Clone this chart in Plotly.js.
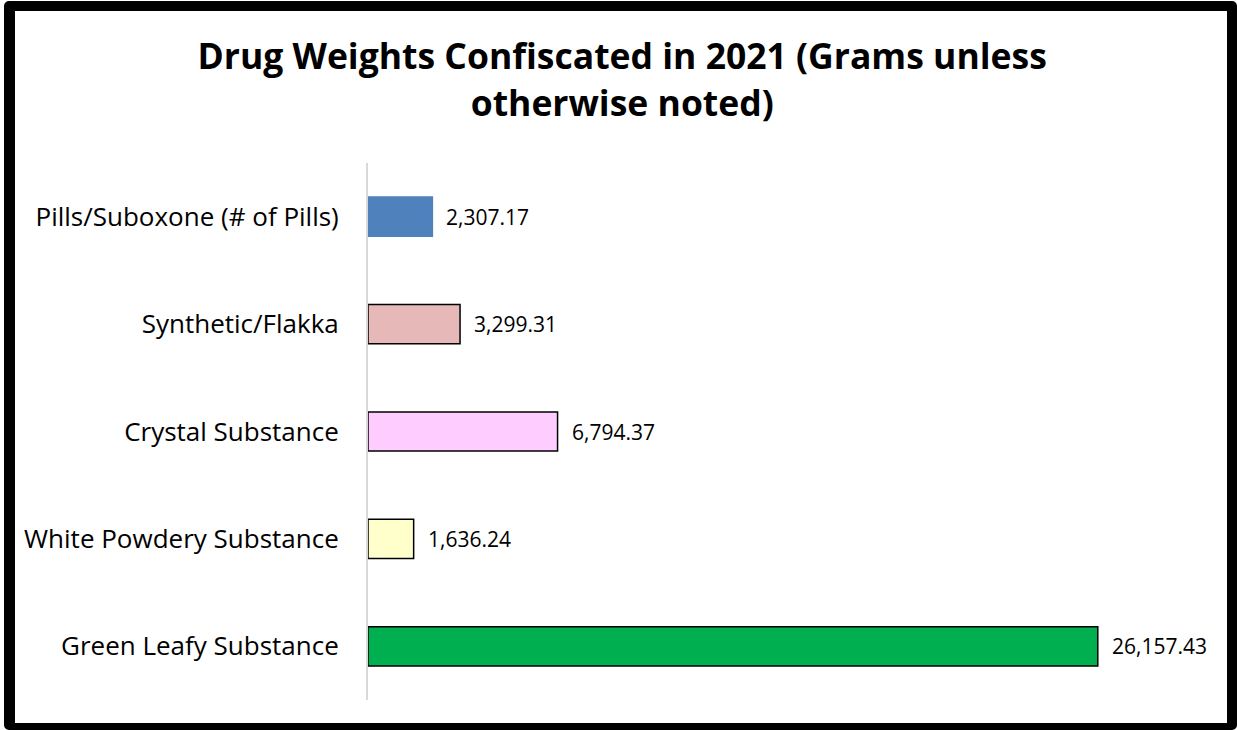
<!DOCTYPE html>
<html>
<head>
<meta charset="utf-8">
<script src="https://cdn.plot.ly/plotly-3.0.1.min.js"></script>
<style>
html,body{margin:0;padding:0;background:#fff;}
#wrap{position:relative;width:1237px;height:730px;overflow:hidden;}
#chart{position:absolute;left:0;top:0;width:1237px;height:730px;}
#frame{position:absolute;left:4px;top:1px;width:1233px;height:729px;box-sizing:border-box;border-style:solid;border-color:#000;border-width:10px 10px 7px 11px;border-radius:5px;pointer-events:none;}
</style>
</head>
<body>
<div id="wrap"><div id="chart"></div><div id="frame"></div></div>
<script>
const categories = ["Pills/Suboxone (# of Pills)", "Synthetic/Flakka", "Crystal Substance", "White Powdery Substance", "Green Leafy Substance"];
const values = [2307.17, 3299.31, 6794.37, 1636.24, 26157.43];
const valueLabels = ["2,307.17", "3,299.31", "6,794.37", "1,636.24", "26,157.43"];
const fillColors = ["#4F81BD", "#E6B9B8", "#FFCCFF", "#FFFFCC", "#00B050"];
const lineColors = ["#4F81BD", "#000000", "#000000", "#000000", "#000000"];

const FONT = "Open Sans, sans-serif";

const trace = {
  type: "bar",
  orientation: "h",
  y: categories,
  x: values,
  width: 0.365,
  marker: {color: fillColors, line: {color: lineColors, width: 1.5}},
  hoverinfo: "skip"
};

const annotations = values.map((v, i) => ({
  x: v, y: categories[i], xref: "x", yref: "y",
  text: valueLabels[i], showarrow: false, xanchor: "left", yanchor: "middle",
  xshift: 12, font: {family: FONT, size: 21, color: "#000"}
}));

const layout = {
  width: 1237, height: 730,
  paper_bgcolor: "#fff", plot_bgcolor: "#fff",
  margin: {l: 368, r: 32, t: 163, b: 30},
  showlegend: false,
  title: {
    text: "<b>Drug Weights Confiscated in 2021 (Grams unless<br>otherwise noted)</b>",
    font: {family: FONT, size: 35.5, color: "#000"},
    x: 0.503, xref: "container", xanchor: "center", y: 0.905, yref: "container", yanchor: "top"
  },
  xaxis: {range: [0, 30000], visible: false, showgrid: false, zeroline: false, fixedrange: true},
  yaxis: {
    autorange: "reversed", showgrid: false, zeroline: false,
    showline: true, linecolor: "#D9D9D9", linewidth: 2,
    ticks: "", ticklen: 0, ticklabelstandoff: 22,
    tickfont: {family: FONT, size: 26, color: "#000"}, fixedrange: true
  },
  annotations: annotations
};

Plotly.newPlot("chart", [trace], layout, {displayModeBar: false, staticPlot: true});
</script>
</body>
</html>
